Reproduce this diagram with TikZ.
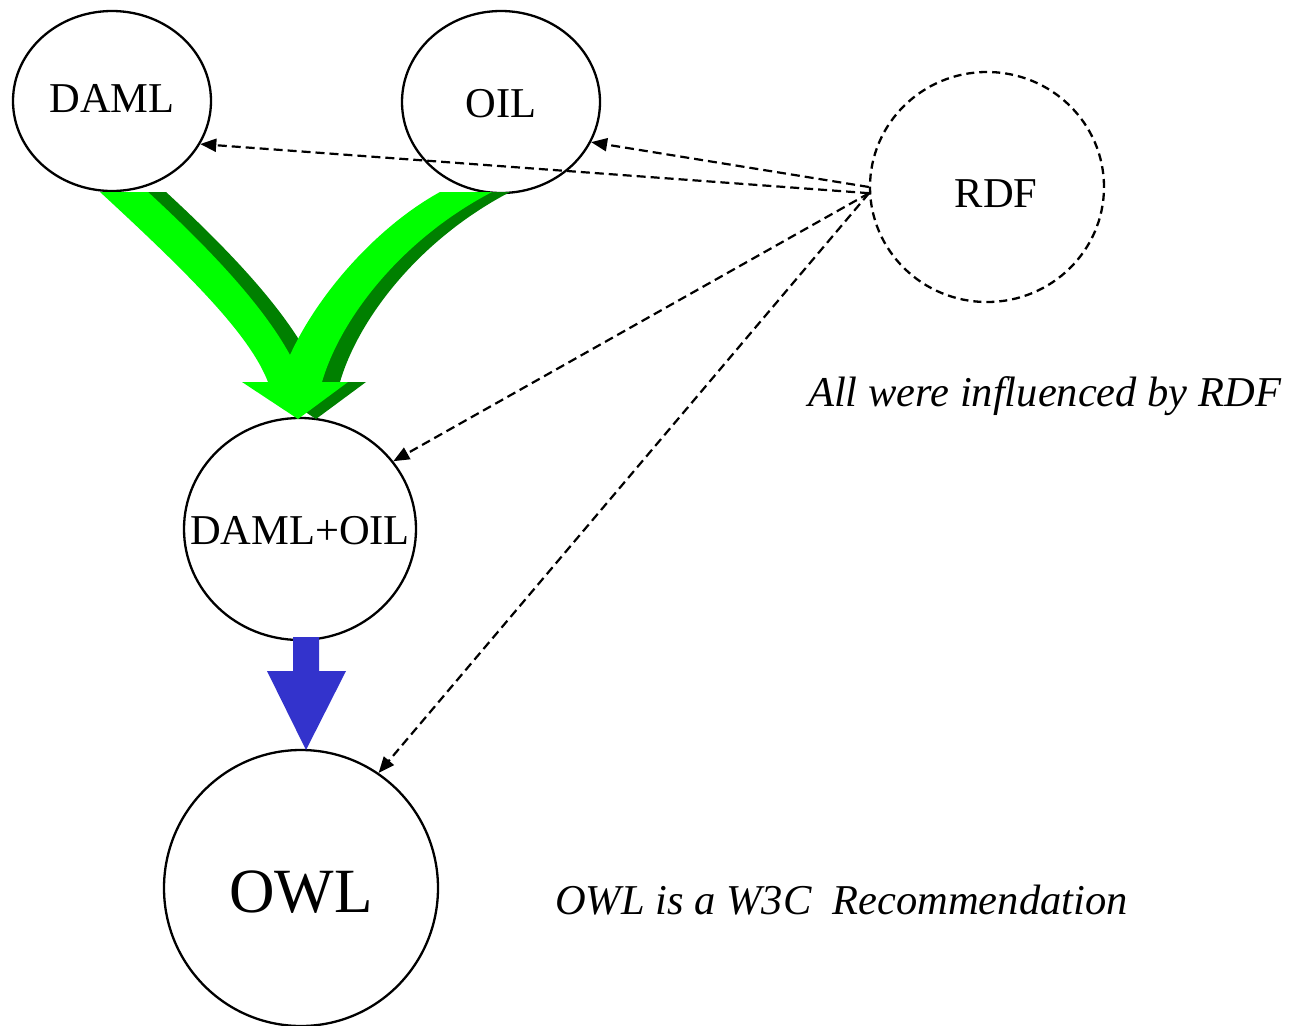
\documentclass[tikz,border=0pt]{standalone}
\usepackage{fontspec}
\setmainfont{Liberation Serif}
\usetikzlibrary{shapes.geometric,arrows.meta}
\definecolor{lightgreen}{RGB}{0,255,0}
\definecolor{darkgreen}{RGB}{0,128,0}
\definecolor{mergeblue}{RGB}{51,51,204}
\begin{document}
\begin{tikzpicture}[x=1pt,y=-1pt,
  lang/.style={ellipse,draw=black,line width=2.3pt,inner sep=0pt},
  langname/.style={font=\fontsize{42.5}{50}\selectfont},
  infl/.style={line width=2.2pt,dash pattern=on 9pt off 5pt,
    -{Triangle[length=16pt,width=13pt]}},
  note/.style={anchor=base west,inner sep=0pt,
    font=\fontsize{42.5}{50}\selectfont\itshape}]
\useasboundingbox[fill=white] (0,0) rectangle (1294,1026);

% languages (names set as centred labels so the outline keeps its size)
\node[lang,minimum width=198pt,minimum height=180pt,
  label={[langname,yshift=2pt]center:DAML}] (daml) at (112,101) {};
\node[lang,minimum width=198pt,minimum height=182pt,
  label={[langname,yshift=-2pt]center:OIL}] (oil) at (501,102) {};
\node[lang,dash pattern=on 8pt off 5pt,minimum width=234pt,minimum height=230pt,
  label={[langname,xshift=9pt,yshift=-7pt]center:RDF}] (rdf) at (987,187) {};
\node[lang,minimum width=232pt,minimum height=222pt,
  label={[langname,yshift=-2pt]center:DAML+OIL}] (damloil) at (300,529) {};
\node[lang,minimum width=274pt,minimum height=276pt,
  label={[font=\fontsize{63}{70}\selectfont,yshift=-4pt]center:OWL}] (owl) at (301,888) {};

% merge of DAML and OIL: shadow first, then the face
\def\mergepath{(100,192) .. controls (190,275) and (250,335) .. (268,382)
  -- (242,382) -- (298,419) -- (348,382) -- (322,382)
  .. controls (340,320) and (400,240) .. (492,192)
  -- (440,192) .. controls (380,225) and (320,290) .. (290,355)
  .. controls (260,300) and (200,240) .. (148,192) -- cycle}
\fill[darkgreen,shift={(18,0)}] \mergepath;
\fill[lightgreen] \mergepath;

% DAML+OIL becomes OWL
\fill[mergeblue] (293,637) -- (319,637) -- (319,671) -- (346,671)
  -- (306,750) -- (267,671) -- (293,671) -- cycle;

% influence of RDF
\draw[infl] (rdf.183) -- (daml.-26);
\draw[infl] (rdf.180) -- (oil.-24);
\draw[infl] (rdf.183) -- (damloil.36);
\draw[infl] (rdf.183) -- (owl.56);

% notes
\node[note] (infnote) at (808,406) {All were influenced by RDF};
\node[note] (recnote) at (555,914) {OWL is a W3C\ \ Recommendation};
\end{tikzpicture}
\end{document}
